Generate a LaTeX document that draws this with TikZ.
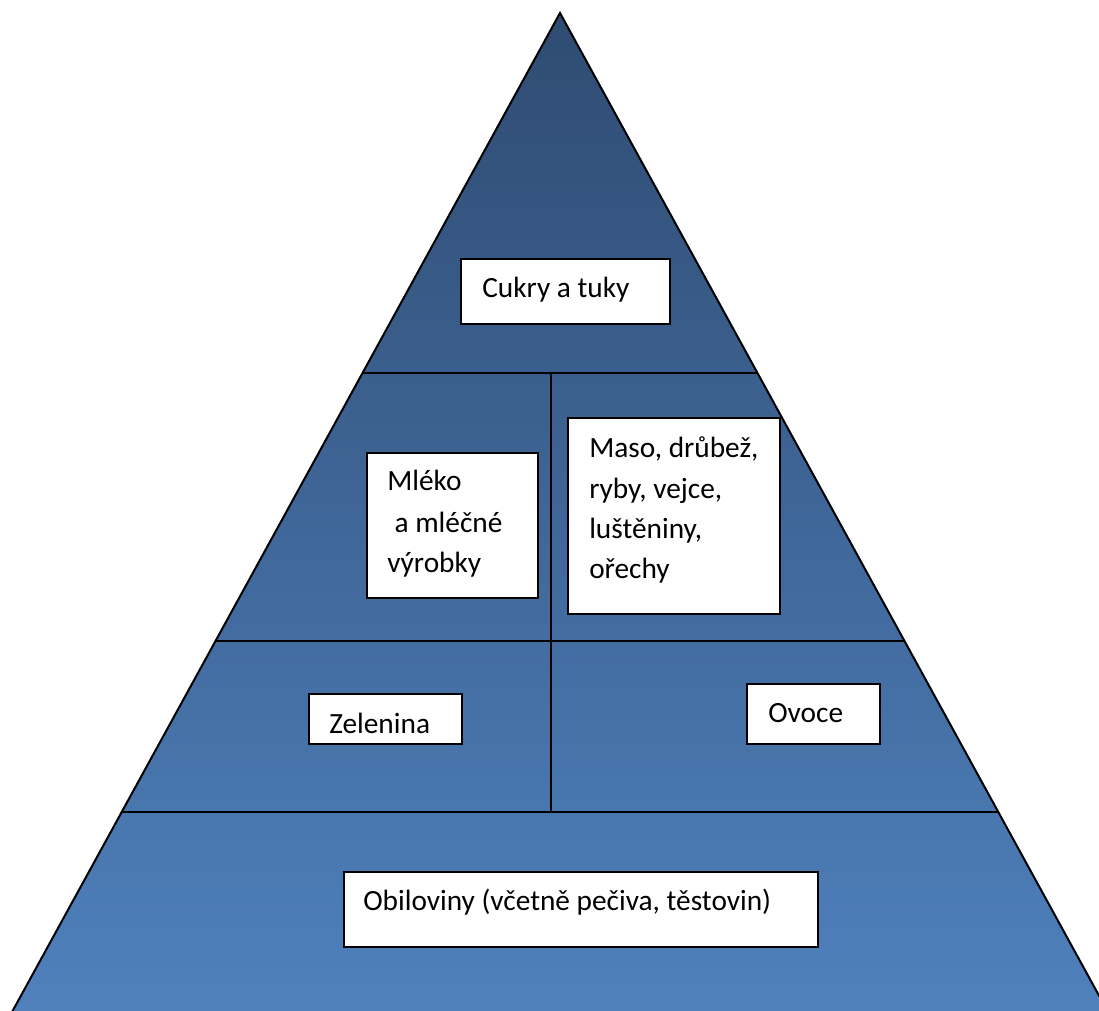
\documentclass[tikz,border=0pt]{standalone}
\usepackage{fontspec}
\setmainfont{Carlito}
\usetikzlibrary{calc}
\definecolor{topblue}{HTML}{2F4B72}
\definecolor{botblue}{HTML}{4F81BD}
\begin{document}
\begin{tikzpicture}[x=0.75pt,y=-0.75pt,
  box/.style={draw=black,line width=1.5pt,fill=white,inner sep=0pt,anchor=north west},
  lbl/.style={anchor=base west,inner sep=0pt,font=\fontsize{22pt}{30pt}\selectfont},
  edge/.style={draw=black,line width=1.5pt}]
\useasboundingbox (0,0) rectangle (1099,1010);
\clip (0,0) rectangle (1099,1010);
\coordinate (A) at (560,13);
\coordinate (BL) at (12,1012);
\coordinate (BR) at (1108,1012);
\shade[top color=topblue,bottom color=botblue] (A) -- (BL) -- (BR) -- cycle;
% level lines
\coordinate (L1) at ($(A)!{(373-13)/999}!(BL)$);
\coordinate (R1) at ($(A)!{(373-13)/999}!(BR)$);
\coordinate (L2) at ($(A)!{(641-13)/999}!(BL)$);
\coordinate (R2) at ($(A)!{(641-13)/999}!(BR)$);
\coordinate (L3) at ($(A)!{(812-13)/999}!(BL)$);
\coordinate (R3) at ($(A)!{(812-13)/999}!(BR)$);
\coordinate (V1) at (551,373);
\coordinate (V2) at (551,812);
\draw[edge] (L1) -- (R1);
\draw[edge] (L2) -- (R2);
\draw[edge] (L3) -- (R3);
\draw[edge] (V1) -- (V2);
\draw[edge,line join=miter] (A) -- (BL) -- (BR) -- cycle;
% boxes
\node[box,minimum width={209*0.75pt},minimum height={65*0.75pt}] (cukry) at (460,258) {};
\node[box,minimum width={171*0.75pt},minimum height={145*0.75pt}] (mleko) at (366,452) {};
\node[box,minimum width={212*0.75pt},minimum height={196*0.75pt}] (maso) at (567,417) {};
\node[box,minimum width={153*0.75pt},minimum height={50*0.75pt}] (zelenina) at (308,693) {};
\node[box,minimum width={133*0.75pt},minimum height={60*0.75pt}] (ovoce) at (746,683) {};
\node[box,minimum width={474*0.75pt},minimum height={75*0.75pt}] (obil) at (343,871) {};
% texts
\node[lbl] (t1) at (482,297) {Cukry a tuky};
\node[lbl] (t2a) at (387,490) {Mléko};
\node[lbl] (t2b) at (387,532) {\hspace{0.25em}a mléčné};
\node[lbl] (t2c) at (387,572) {výrobky};
\node[lbl] (t3a) at (589,457) {Maso, drůbež,};
\node[lbl] (t3b) at (589,498) {ryby, vejce,};
\node[lbl] (t3c) at (589,538) {luštěniny,};
\node[lbl] (t3d) at (589,578) {ořechy};
\node[lbl] (t4) at (329,733) {Zelenina};
\node[lbl] (t5) at (768,722) {Ovoce};
\node[lbl] (t6) at (363,910) {Obiloviny (včetně pečiva, těstovin)};
\end{tikzpicture}
\end{document}
